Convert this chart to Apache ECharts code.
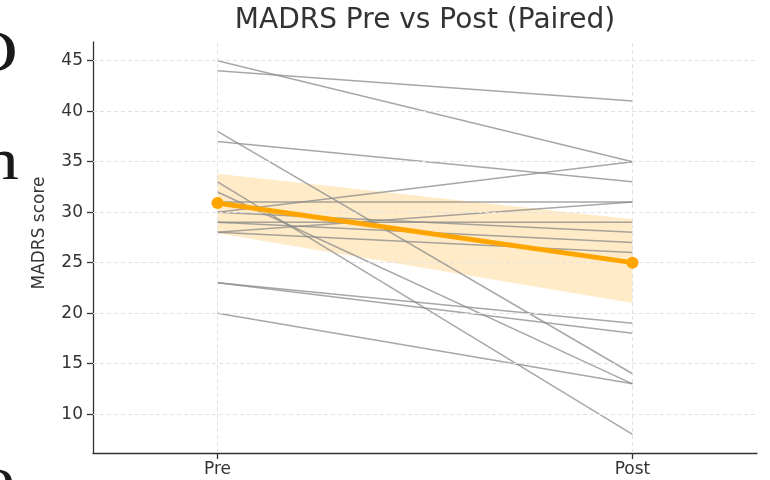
<!DOCTYPE html>
<html>
<head>
<meta charset="utf-8">
<script src="https://cdn.jsdelivr.net/npm/echarts@6/dist/echarts.min.js"></script>
<style>
  html, body { margin: 0; padding: 0; background: #ffffff; }
  #chart { width: 770px; height: 480px; }
</style>
</head>
<body>
<div id="chart"></div>
<script>
// Paired MADRS scores per participant, before and after treatment
const xLabels = ['Pre', 'Post'];
const xPositions = [0, 1];
const yTicks = [10, 15, 20, 25, 30, 35, 40, 45];

const preScores  = [45, 44, 38, 37, 33, 32, 31, 30, 30, 29, 29, 28, 28, 23, 23, 20];
const postScores = [35, 41, 14, 33,  8, 13, 31, 35, 28, 27, 29, 31, 26, 19, 18, 13];

// Group mean and its 95% confidence band
const meanScores = [30.9, 25.0];
const ciLower = [27.9, 21.0];
const ciUpper = [33.8, 29.3];

const AXIS_COLOR = '#333333';
const TEXT_COLOR = '#333333';
const FONT = 'DejaVu Sans';

const chart = echarts.init(document.getElementById('chart'), null, { renderer: 'canvas' });

const pairSeries = preScores.map((pre, i) => ({
  type: 'line',
  data: [[xPositions[0], pre], [xPositions[1], postScores[i]]],
  symbol: 'none',
  silent: true,
  z: 3,
  lineStyle: { color: '#8a8a8a', width: 1.5, opacity: 0.75 }
}));

const gridSeries = {
  type: 'line',
  data: [],
  silent: true,
  z: 1,
  markLine: {
    silent: true,
    symbol: 'none',
    label: { show: false },
    animation: false,
    lineStyle: { type: [4, 3], color: '#e2e2e2', width: 1 },
    data: yTicks.map(v => ({ yAxis: v })).concat(xPositions.map(v => ({ xAxis: v })))
  }
};

const bandSeries = {
  type: 'custom',
  silent: true,
  z: 2,
  data: xPositions.map((x, i) => [x, ciLower[i], ciUpper[i]]),
  encode: { x: 0, y: [1, 2] },
  renderItem: (params, api) => {
    if (params.dataIndex !== 0) return null;
    const pts = [
      api.coord([xPositions[0], ciUpper[0]]),
      api.coord([xPositions[1], ciUpper[1]]),
      api.coord([xPositions[1], ciLower[1]]),
      api.coord([xPositions[0], ciLower[0]])
    ];
    return {
      type: 'polygon',
      shape: { points: pts },
      style: { fill: 'rgba(255, 165, 0, 0.22)' }
    };
  }
};

const meanSeries = {
  type: 'line',
  data: xPositions.map((x, i) => [x, meanScores[i]]),
  symbol: 'circle',
  symbolSize: 12,
  silent: true,
  z: 5,
  itemStyle: { color: '#FFA500' },
  lineStyle: { color: '#FFA500', width: 5 }
};

// Large serif letters that run off the left edge of the page
const edgeLetters = [
  { ch: 'O', x: 18, y: 55 },
  { ch: 'n', x: 19, y: 163 },
  { ch: 'o', x: 15, y: 481 }
];

chart.setOption({
  animation: false,
  backgroundColor: '#ffffff',
  grid: { left: 93, right: 13, top: 42, bottom: 27, containLabel: false },
  graphic: [
    {
      type: 'text',
      x: 425,
      y: 7,
      style: {
        text: 'MADRS Pre vs Post (Paired)',
        font: '28px "DejaVu Sans"',
        fill: TEXT_COLOR,
        textAlign: 'center',
        textVerticalAlign: 'top'
      }
    },
    {
      type: 'text',
      x: 40,
      y: 233,
      rotation: Math.PI / 2,
      style: {
        text: 'MADRS score',
        font: '17px "DejaVu Sans"',
        fill: TEXT_COLOR,
        textAlign: 'center',
        textVerticalAlign: 'middle'
      }
    }
  ].concat(edgeLetters.map(l => ({
    type: 'text',
    x: l.x,
    y: l.y,
    scaleX: 1.25,
    style: {
      text: l.ch,
      font: '60px "Liberation Serif"',
      fill: '#1a1a1a',
      textAlign: 'right',
      textVerticalAlign: 'middle'
    }
  }))),
  xAxis: {
    type: 'value',
    min: -0.3,
    max: 1.3,
    axisLine: { show: true, onZero: false, lineStyle: { color: AXIS_COLOR, width: 1.3 } },
    axisTick: { show: true, customValues: xPositions, length: 6, lineStyle: { color: AXIS_COLOR, width: 1.3 } },
    axisLabel: {
      customValues: xPositions,
      formatter: v => { const k = xPositions.indexOf(v); return k >= 0 ? xLabels[k] : ''; },
      color: TEXT_COLOR, fontFamily: FONT, fontSize: 17, margin: 8
    },
    splitLine: { show: false }
  },
  yAxis: {
    type: 'value',
    min: 6.15,
    max: 46.85,
    axisLine: { show: true, onZero: false, lineStyle: { color: AXIS_COLOR, width: 1.3 } },
    axisTick: { show: true, customValues: yTicks, length: 6, lineStyle: { color: AXIS_COLOR, width: 1.3 } },
    axisLabel: { customValues: yTicks, color: TEXT_COLOR, fontFamily: FONT, fontSize: 17, margin: 10 },
    splitLine: { show: false }
  },
  series: [gridSeries, bandSeries].concat(pairSeries, [meanSeries])
});
</script>
</body>
</html>
